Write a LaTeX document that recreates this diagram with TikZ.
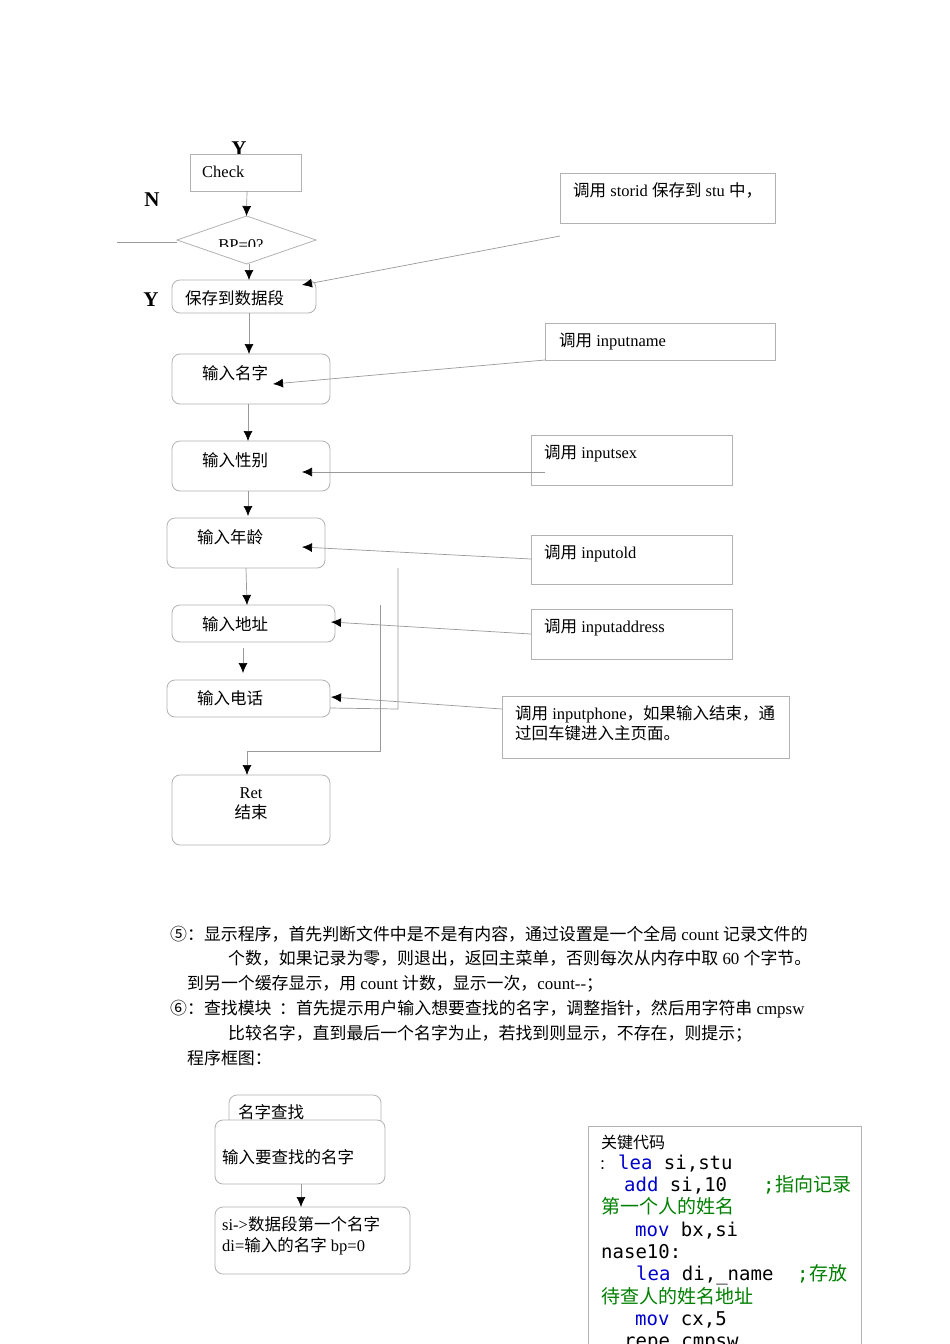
\documentclass[tikz,border=0pt]{standalone}
\usepackage{fontspec}
\setmainfont{Liberation Serif}
\newfontfamily\cjk{Noto Sans CJK SC}
\newfontfamily\codefont{DejaVu Sans Mono}
\usetikzlibrary{arrows.meta,shapes.geometric}
\newcommand\zh[1]{{\cjk #1}}
\definecolor{kw}{RGB}{0,0,205}
\definecolor{cm}{RGB}{0,128,0}
\tikzset{
 rbox/.style={draw=black!30, line width=0.8pt, rounded corners=8pt, fill=white, inner sep=0pt, outer sep=0pt, anchor=north west},
 sbox/.style={draw=black!30, line width=0.8pt, fill=white, inner sep=0pt, outer sep=0pt, anchor=north west},
 conn/.style={draw=black!40, line width=0.7pt},
 flow/.style={conn, -{Latex[color=black,length=10pt,width=9pt]}},
 txt/.style={inner sep=0pt, anchor=base west, font=\fontsize{16.5}{19}\selectfont},
 ptxt/.style={inner sep=0pt, anchor=base west, font=\fontsize{16.9}{19}\selectfont},
 ctxt/.style={inner sep=0pt, anchor=base, font=\fontsize{16.5}{19}\selectfont},
 lbl/.style={inner sep=0pt, anchor=base, font=\bfseries\fontsize{21}{22}\selectfont},
 code/.style={inner sep=0pt, anchor=base west, font=\codefont\fontsize{19}{22}\selectfont},
 czh/.style={inner sep=0pt, anchor=base west, font=\cjk\fontsize{19}{22}\selectfont, text=cm},
}
\begin{document}
\begin{tikzpicture}[x=1pt,y=-1pt]
\fill[white] (0,0) rectangle (950,1344);
\useasboundingbox (0,0) rectangle (950,1344);

% ---------- upper flowchart ----------
\node[lbl] (ytop) at (239,155) {Y};
\node[sbox, minimum width=111pt, minimum height=37pt] (check) at (190,154) {};
\node[txt] (checkt) at (202,177) {Check};
\node[lbl] (nlab) at (152,206) {N};
\node[draw=black!30, line width=0.8pt, shape=diamond, inner sep=0pt, outer sep=0pt,
      minimum width=139pt, minimum height=48pt] (dia) at (246.5,240) {};
\begin{scope}
 \clip (200,228) rectangle (300,246);
 \node[ctxt] (diat) at (241,250) {BP=0?};
\end{scope}
\coordinate (nleft) at (117,242);
\node[lbl] (ylab) at (151,306) {Y};

\node[rbox, minimum width=144pt, minimum height=33pt] (save) at (172,280) {};
\node[txt] (savet) at (185,304) {\zh{保存到数据段}};
\node[rbox, minimum width=158pt, minimum height=50pt] (name) at (172,354) {};
\node[txt] (namet) at (202,379) {\zh{输入名字}};
\node[rbox, minimum width=158pt, minimum height=50pt] (sex) at (172,441) {};
\node[txt] (sext) at (202,466) {\zh{输入性别}};
\node[rbox, minimum width=158pt, minimum height=50pt] (age) at (167,518) {};
\node[txt] (aget) at (197,543) {\zh{输入年龄}};
\node[rbox, minimum width=163pt, minimum height=37pt] (addr) at (172,605) {};
\node[txt] (addrt) at (202,630) {\zh{输入地址}};
\node[rbox, minimum width=163pt, minimum height=37pt] (phone) at (167,680) {};
\node[txt] (phonet) at (197,704) {\zh{输入电话}};
\node[rbox, minimum width=158pt, minimum height=70pt] (ret) at (172,775) {};
\node[ctxt] (rett) at (251,798) {Ret};
\node[ctxt] (rett2) at (251,818) {\zh{结束}};

% call boxes
\node[sbox, minimum width=215pt, minimum height=50pt] (storid) at (560,173) {};
\node[txt] (storidt) at (573,196) {\zh{调用} storid \zh{保存到} stu \zh{中，}};
\node[sbox, minimum width=230pt, minimum height=37pt] (iname) at (545,323) {};
\node[txt] (inamet) at (559,346) {\zh{调用} inputname};
\node[sbox, minimum width=201pt, minimum height=50pt] (isex) at (531,435) {};
\node[txt] (isext) at (544,458) {\zh{调用} inputsex};
\node[sbox, minimum width=201pt, minimum height=49pt] (iold) at (531,535) {};
\node[txt] (ioldt) at (544,558) {\zh{调用} inputold};
\node[sbox, minimum width=201pt, minimum height=50pt] (iaddr) at (531,609) {};
\node[txt] (iaddrt) at (544,632) {\zh{调用} inputaddress};
\node[sbox, minimum width=287pt, minimum height=62pt] (iphone) at (502,696) {};
\node[txt] (iphonet) at (515,719) {\zh{调用} inputphone\zh{，如果输入结束，通}};
\node[txt] (iphonet2) at (515,739) {\zh{过回车键进入主页面。}};

% connectors
\coordinate (col) at (248,0);
\draw[flow] (check.south -| ytop) ++(8,0) -- (dia.north);
\draw[conn] ([yshift=-2pt]dia.west) -- (nleft);
\draw[flow] ([xshift=2.5pt]dia.south) -- ([xshift=2.5pt]dia.south |- save.north);
\draw[conn] (save.south -| col) ++(1,0) -- ++(0,20);
\draw[flow] ([xshift=1pt]save.south -| col) -- ([xshift=1pt]name.north -| col);
\draw[flow] (name.south -| col) -- (sex.north -| col);
\draw[flow] (sex.south -| col) -- ([yshift=2pt]age.north -| col);
\draw[flow] ([xshift=-2pt]age.south -| col) -- ([xshift=-1pt]addr.north -| col);
\draw[flow] ([xshift=-5pt,yshift=-6pt]addr.south -| col) -- ([xshift=-5pt,yshift=7pt]phone.north -| col);
\coordinate (loopA) at (398,709);
\coordinate (loopB) at (398,568);
\draw[conn] ([yshift=-9.5pt]phone.east) -- (loopA) -- (loopB);
\coordinate (loopC) at (380,605);
\coordinate (j) at (247,751);
\draw[conn] (loopC) -- (loopC |- j) -- (j);
\draw[flow] (j) -- (j |- ret.north);

\coordinate (saveIn) at (302,285);
\coordinate (nameIn) at (273,384);
\coordinate (sexIn) at (302,472);
\coordinate (ageIn) at (302,547);
\coordinate (addrIn) at (331,622);
\coordinate (phoneIn) at (331,697);
\draw[flow] ([yshift=-13pt]storid.south west) -- (saveIn);
\draw[flow] (iname.south west) -- (nameIn);
\draw[flow] ([xshift=14pt,yshift=13pt]isex.south west) -- (sexIn);
\draw[flow] ([yshift=-24pt]iold.north west) -- (ageIn);
\draw[flow] ([yshift=-25pt]iaddr.north west) -- (addrIn);
\draw[flow] ([yshift=-13pt]iphone.north west) -- (phoneIn);

% ---------- paragraph ----------
\node[ptxt] (p1) at (170,940) {\zh{⑤：显示程序，首先判断文件中是不是有内容，通过设置是一个全局} count \zh{记录文件的}};
\node[ptxt] (p2) at (228,964) {\zh{个数，如果记录为零，则退出，返回主菜单，否则每次从内存中取} 60 \zh{个字节。}};
\node[ptxt] (p3) at (187,989) {\zh{到另一个缓存显示，用} count \zh{计数，显示一次，}count-{}-\zh{；}};
\node[ptxt] (p4) at (170,1014) {\zh{⑥：查找模块\ \ ：首先提示用户输入想要查找的名字，调整指针，然后用字符串} cmpsw};
\node[ptxt] (p5) at (228,1039) {\zh{比较名字，直到最后一个名字为止，若找到则显示，不存在，则提示；}};
\node[ptxt] (p6) at (187,1064) {\zh{程序框图：}};

% ---------- lower flowchart ----------
\node[rbox, minimum width=152pt, minimum height=40pt] (find) at (229,1095) {};
\node[txt] (findt) at (238,1118) {\zh{名字查找}};
\node[rbox, minimum width=170pt, minimum height=64pt] (inp) at (215,1120) {};
\node[txt] (inpt) at (222,1163) {\zh{输入要查找的名字}};
\node[rbox, minimum width=195pt, minimum height=67pt] (si) at (215,1207) {};
\node[txt] (sit) at (222,1230) {si-{\char`>}\zh{数据段第一个名字}};
\node[txt] (sit2) at (222,1251) {di=\zh{输入的名字} bp=0};
\draw[flow] ([xshift=1pt]inp.south) -- ([xshift=1pt]inp.south |- si.north);

% ---------- code box ----------
\node[sbox, minimum width=273pt, minimum height=240pt] (codebox) at (588,1126) {};
\node[txt, font=\cjk\fontsize{16}{19}\selectfont] (c0) at (601,1148) {关键代码};
\node[txt, font=\cjk\fontsize{14}{19}\selectfont] (c1a) at (599,1169) {：};
\node[code] (c1) at (618,1169) {\textcolor{kw}{lea} si,stu};
\node[code] (c2) at (624,1191) {\textcolor{kw}{add} si,10};
\node[code, text=cm] (c2b) at (763,1191) {;};
\node[czh] (c2c) at (775,1191) {指向记录};
\node[czh] (c3) at (601,1213) {第一个人的姓名};
\node[code] (c4) at (635,1236) {\textcolor{kw}{mov} bx,si};
\node[code] (c5) at (601,1258) {nase10:};
\node[code] (c6) at (636,1280) {\textcolor{kw}{lea} di,\_name};
\node[code, text=cm] (c6b) at (797,1280) {;};
\node[czh] (c6c) at (809,1280) {存放};
\node[czh] (c7) at (601,1303) {待查人的姓名地址};
\node[code] (c8) at (635,1325) {\textcolor{kw}{mov} cx,5};
\node[code] (c9) at (624,1347) {repe cmpsw};
\end{tikzpicture}
\end{document}
